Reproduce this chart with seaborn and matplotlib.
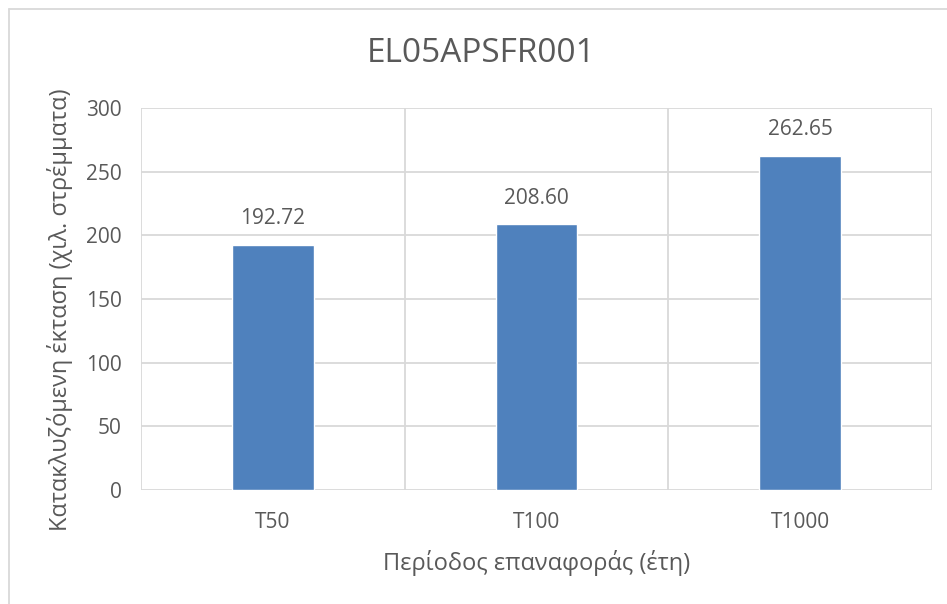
import pandas as pd
import matplotlib
matplotlib.use("Agg")
import matplotlib.pyplot as plt
import seaborn as sns
from matplotlib.lines import Line2D

# chart data
categories = ["T50", "T100", "T1000"]
values = [192.72, 208.60, 262.65]
value_labels = ["192.72", "208.60", "262.65"]
y_ticks = [0, 50, 100, 150, 200, 250, 300]

title = "EL05APSFR001"
x_label = "Περίοδος επαναφοράς (έτη)"
y_label = "Κατακλυζόμενη έκταση (χιλ. στρέμματα)"

sns.set_theme(style="white")
plt.rcParams['font.family'] = ['Open Sans', 'DejaVu Sans']

text_color = "#595959"
grid_color = "#d9d9d9"

df = pd.DataFrame({"cat": categories, "val": values})

fig = plt.figure(figsize=(9.47, 6.04), dpi=100)
ax = fig.add_axes([141 / 947, 1 - 490 / 604, 791 / 947, 382 / 604])

sns.barplot(data=df, x="cat", y="val", color="#4f81bd", saturation=1,
            width=0.31, ax=ax, zorder=3)

ax.set_ylim(0, 300)
ax.set_xlim(-0.5, len(categories) - 0.5)
ax.set_yticks(y_ticks)
ax.set_yticklabels([str(t) for t in y_ticks])

# horizontal gridlines and category separators
for t in y_ticks:
    ax.axhline(t, color=grid_color, lw=1.3, zorder=1)
for i in range(len(categories) + 1):
    ax.axvline(i - 0.5, color=grid_color, lw=1.3, zorder=1)

for s in ax.spines.values():
    s.set_visible(False)

ax.tick_params(axis="both", length=0, labelsize=15, labelcolor=text_color)
ax.tick_params(axis="x", pad=16)
ax.tick_params(axis="y", pad=14)

for i, (v, lab) in enumerate(zip(values, value_labels)):
    ax.annotate(lab, (i, v), xytext=(0, 11), textcoords="offset points",
                ha="center", va="bottom", fontsize=15, color=text_color)

ax.set_xlabel(x_label, fontsize=17, color=text_color, labelpad=12)
ax.set_ylabel("")
fig.text(60 / 947, 1 - 310 / 604, y_label, rotation=90, ha="center",
         va="center", fontsize=17, color=text_color)
fig.text(481 / 947, 1 - 53 / 604, title, ha="center",
         va="center", fontsize=24, color=text_color)

# outer chart border (left and top visible)
fig.add_artist(Line2D([8.5 / 947, 8.5 / 947], [0, 1 - 9 / 604],
                      transform=fig.transFigure, color=grid_color, lw=1.3))
fig.add_artist(Line2D([8.5 / 947, 1], [1 - 9 / 604, 1 - 9 / 604],
                      transform=fig.transFigure, color=grid_color, lw=1.3))

fig.savefig("out.png", dpi=100)
